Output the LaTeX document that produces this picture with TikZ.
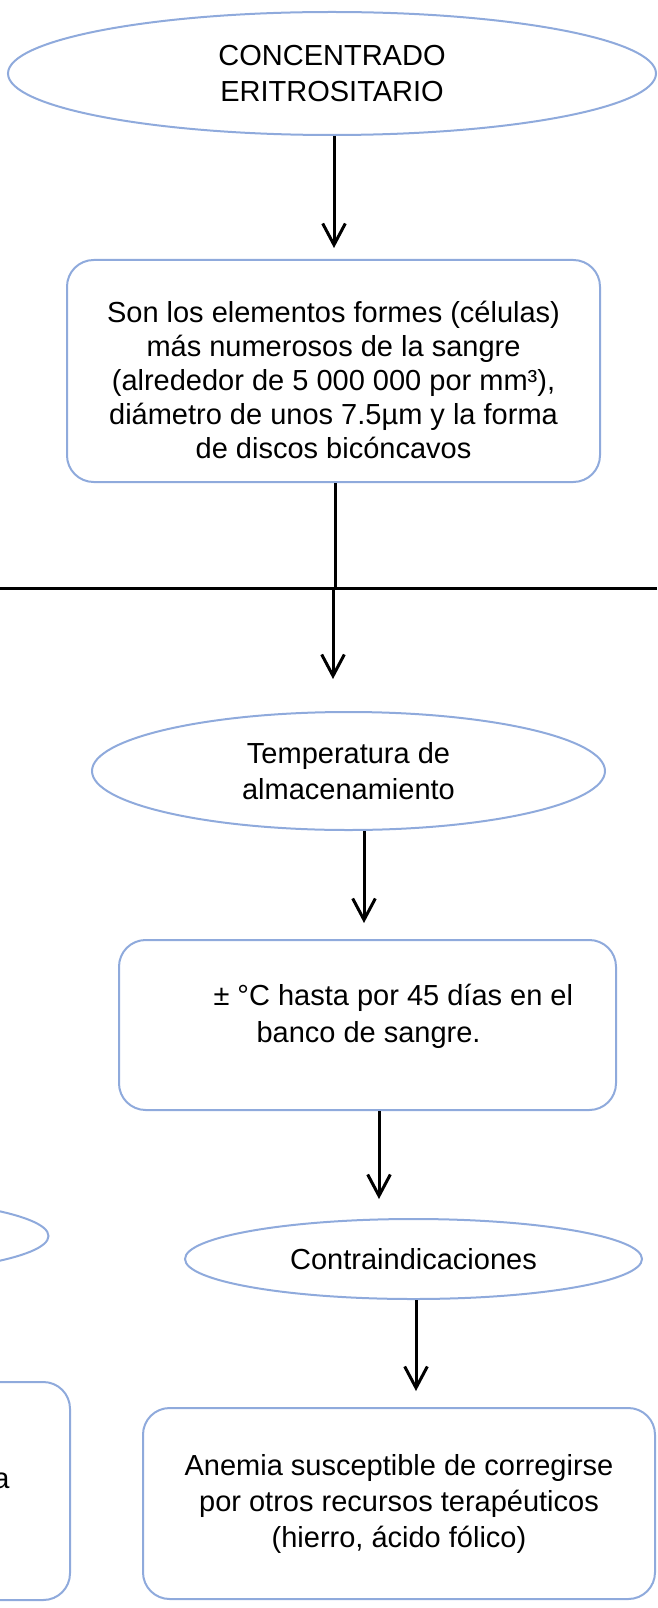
\documentclass[tikz,border=0pt]{standalone}
\usepackage{fontspec}
\setmainfont{Liberation Sans}
\usetikzlibrary{shapes.geometric,arrows.meta}

\tikzset{every picture/.style={line width=0.75pt}}
\tikzset{
  txt/.style={font=\fontsize{21.75pt}{27pt}\selectfont, align=center, inner sep=0.75pt},
  oval/.style={ellipse, draw=blueframe, line width=1.5pt, inner sep=0pt, txt},
  roundbox/.style={rectangle, draw=blueframe, line width=1.5pt, rounded corners=20pt, inner sep=0pt, txt},
  arr/.style={draw=black, line width=2.25pt, -{Straight Barb[length=16pt,width=17pt]}},
  rule/.style={draw=black, line width=2.25pt}
}
\definecolor{blueframe}{RGB}{143,170,220}

\begin{document}
\begin{tikzpicture}[x=0.75pt,y=0.75pt,yscale=-1,xscale=1]
\useasboundingbox (0,0) rectangle (657,1608);

%Shape: Ellipse
\draw (332,73.5) node [oval, minimum width=486pt, minimum height=92.25pt] (conc) {CONCENTRADO\\ERITROSITARIO};

%Rounded Rect
\draw (333.5,371) node [roundbox, minimum width=399.75pt, minimum height=166.5pt] (cells) {};

% Text Node
\draw (333.5,380) node [txt, font=\fontsize{21.75pt}{25.5pt}\selectfont] (cellstext) {Son los elementos formes (células)\\más numerosos de la sangre\\(alrededor de 5 000 000 por mm³),\\diámetro de unos 7.5µm y la forma\\de discos bicóncavos};

%Straight Lines
\coordinate (cellsin) at (334,248);
\draw [arr] (conc.south -| cellsin) -- (cellsin);

%Straight Lines
\coordinate (split) at (335,588);
\coordinate (rulew) at (0,588);
\coordinate (rulee) at (657,588);
\draw [rule] (cells.south -| split) -- (split);
\draw [rule] (rulew) -- (rulee);

%Shape: Ellipse
\draw (348.5,771) node [oval, minimum width=384.75pt, minimum height=88.5pt] (temp) {Temperatura de\\almacenamiento};

\coordinate (tempin) at (333,679);
\draw [arr] (split -| tempin) -- (tempin);

%Rounded Rect
\draw (367.5,1025) node [roundbox, minimum width=372.75pt, minimum height=127.5pt] (store) {};

% Text Node
\draw (212,1005) node [txt, anchor=base west] (storea) {± °C hasta por 45 días en el};
% Text Node
\draw (255,1042) node [txt, anchor=base west] (storeb) {banco de sangre.};

\coordinate (storein) at (364,923);
\draw [arr] (temp.south -| storein) -- (storein);

%Shape: Ellipse
\draw (-180,1236) node [oval, minimum width=342.75pt, minimum height=60pt] (indic) {};

%Shape: Ellipse
\draw (413.5,1259) node [oval, minimum width=342.75pt, minimum height=60pt] (contra) {Contraindicaciones};

\coordinate (contrain) at (379,1199);
\draw [arr] (store.south -| contrain) -- (contrain);

%Rounded Rect
\draw (-186,1491) node [roundbox, minimum width=384pt, minimum height=163.5pt] (indicbox) {};

% Text Node
\draw (11,1488) node [txt, anchor=base east] (indica) {a};
% Text Node
\draw (2,1541) node [txt, anchor=base east] (indicb) {.};

%Rounded Rect
\draw (399,1503.5) node [roundbox, minimum width=384pt, minimum height=143.25pt] (anemia) {Anemia susceptible de corregirse\\por otros recursos terapéuticos\\(hierro, ácido fólico)};

\coordinate (anemiain) at (416,1391);
\draw [arr] (contra.south -| anemiain) -- (anemiain);

\end{tikzpicture}
\end{document}
